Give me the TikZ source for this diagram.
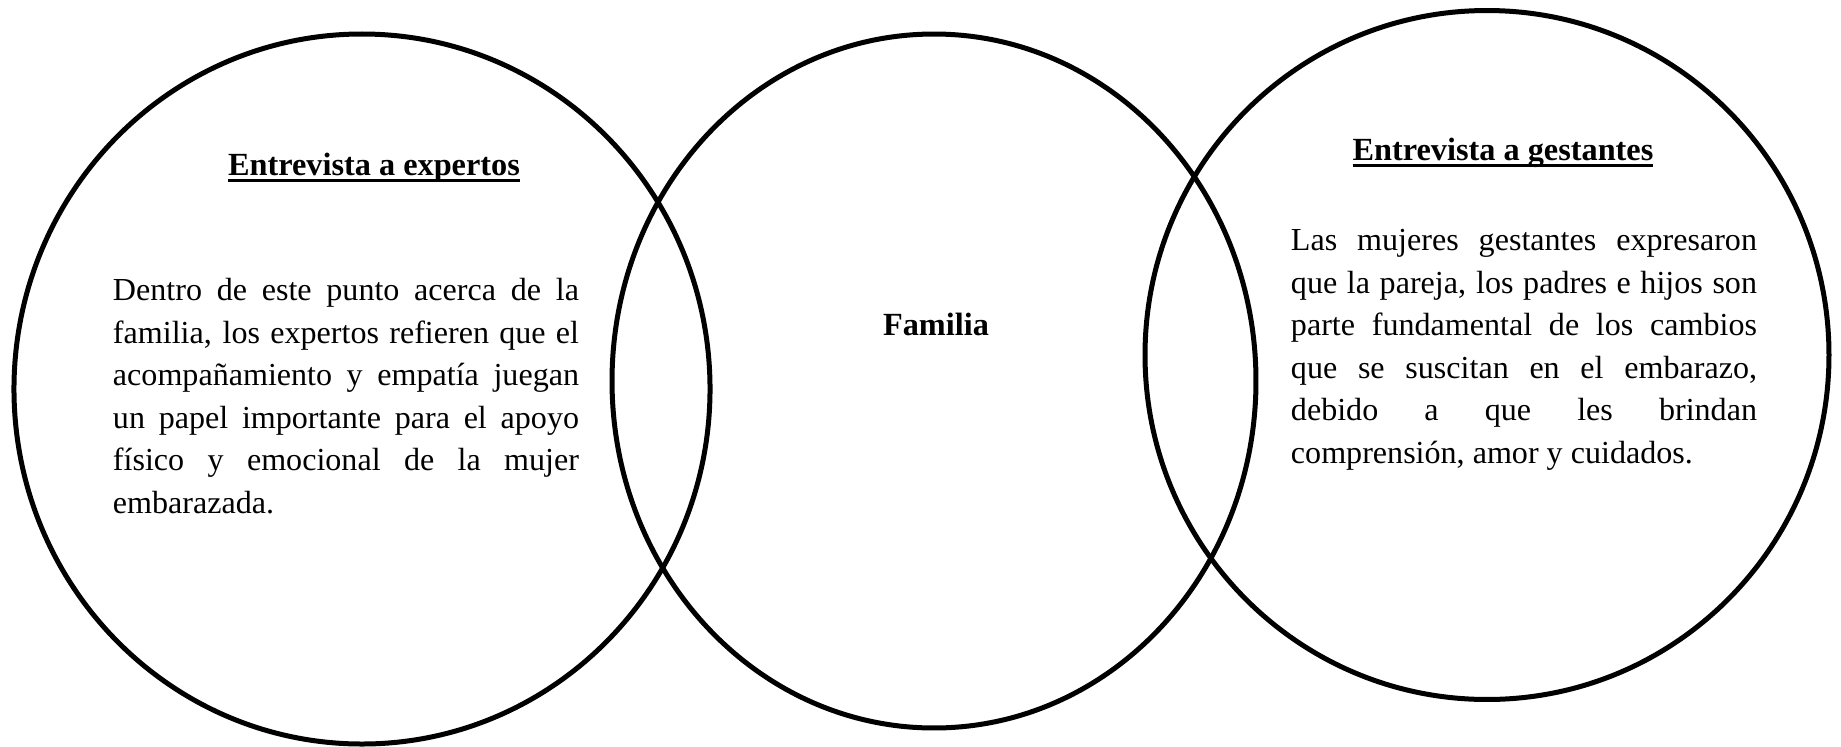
\documentclass[tikz,border=0pt]{standalone}
\usepackage{fontspec}
\setmainfont{Liberation Serif}
\usetikzlibrary{shapes.geometric}
\newcommand{\thickul}[1]{\setbox0\hbox{#1}\rlap{\rule[-3pt]{\wd0}{1.3pt}}\box0}

\begin{document}
\begin{tikzpicture}[x=0.48pt, y=-0.48pt, every node/.style={font=\fontsize{15.4}{20.4}\selectfont},
  venn/.style={draw, ellipse, line width=2.4pt, inner sep=0pt},
  heading/.style={font=\fontsize{15.5}{17}\selectfont\bfseries},
  bodytext/.style={text width=223.7pt, align=justify, inner sep=0pt}]
\useasboundingbox (0,0) rectangle (1841,746);
\node[venn, minimum width=334.1pt, minimum height=340.8pt] (expertos) at (362,389) {};
\node[venn, minimum width=309.1pt, minimum height=333.1pt] (familia) at (934,381) {};
\node[venn, minimum width=328.3pt, minimum height=330.7pt] (gestantes) at (1487,355) {};
\node[heading] (h1) at (374,168) {\thickul{Entrevista a expertos}};
\node[heading] (h2) at (1503,153) {\thickul{Entrevista a gestantes}};
\node[heading] (fam) at (936,324) {Familia};
\node[bodytext] (t1) at (346,396) {\hyphenpenalty=10000
  Dentro de este punto acerca de la\linebreak
  familia, los expertos refieren que el\linebreak
  acompañamiento y empatía juegan\linebreak
  un papel importante para el apoyo\linebreak
  físico y emocional de la mujer\linebreak
  embarazada.};
\node[bodytext] (t2) at (1524,350) {\hyphenpenalty=10000
  Las mujeres gestantes expresaron\linebreak
  que la pareja, los padres e hijos son\linebreak
  parte fundamental de los cambios\linebreak
  que se suscitan en el embarazo,\linebreak
  debido a que les brindan\linebreak
  comprensión, amor y cuidados.};
\end{tikzpicture}
\end{document}
